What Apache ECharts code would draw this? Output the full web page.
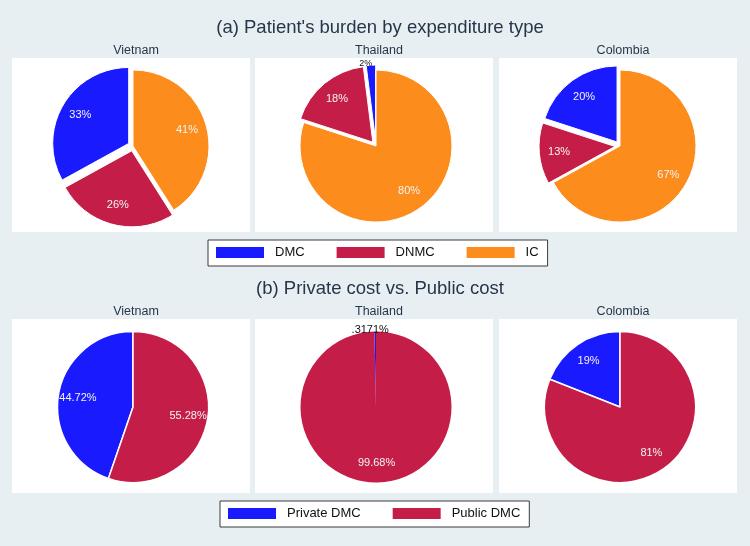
<!DOCTYPE html>
<html>
<head>
<meta charset="utf-8">
<script src="https://cdn.jsdelivr.net/npm/echarts@6/dist/echarts.min.js"></script>
<style>
  html, body { margin: 0; padding: 0; background: #e8eff2; }
  #chart { width: 750px; height: 546px; }
</style>
</head>
<body>
<div id="chart"></div>
<script>
const countries = ['Vietnam', 'Thailand', 'Colombia']
const burdenTypes = ['DMC', 'DNMC', 'IC']
const burdenColors = ['#1a1aff', '#c41e48', '#fc8c1c']
// share of patient's burden (%), per country
const burdenVietnam = [33, 26, 41]
const burdenThailand = [2, 18, 80]
const burdenColombia = [20, 13, 67]
const costTypes = ['Private DMC', 'Public DMC']
const costColors = ['#1a1aff', '#c41e48']
const costVietnam = [44.72, 55.28]
const costThailand = [0.3171, 99.68]
const costColombia = [19, 81]

const titleA = "(a) Patient's burden by expenditure type"
const titleB = '(b) Private cost vs. Public cost'

const textFont = 'Arial, "Liberation Sans", Helvetica, sans-serif'
const panelLefts = [12, 255, 499]
const panelWidth = 238
const panelHeight = 174
const panelTops = [58, 319]

const getchart = echarts.init(document.getElementById('chart'))

function pctLabel(p) {
  let s = String(p.value)
  if (p.value < 1) s = s.replace(/^0/, '')
  return s + '%'
}

// one pie + one transparent ring that carries the labels (Stata puts them at ~0.7 radius)
function pieSeries(names, colors, values, cx, cy, r, explode, border) {
  const mk = (forLabel) => names.map((n, i) => {
    const item = {
      name: n,
      value: values[i],
      selected: explode && i < 2,
      itemStyle: { color: forLabel ? 'rgba(0,0,0,0)' : colors[i] }
    }
    if (forLabel && values[i] < 5) {
      item.label = {
        position: 'outside',
        color: '#111',
        fontSize: values[i] < 1 ? 11 : 9
      }
      item.labelLine = { show: false, length: 2, length2: 0 }
    }
    return item
  })
  const common = {
    type: 'pie',
    center: [cx, cy],
    startAngle: 90,
    clockwise: false,
    avoidLabelOverlap: false,
    selectedMode: 'multiple',
    selectedOffset: 5,
    animation: false,
    emphasis: { disabled: true }
  }
  return [
    Object.assign({}, common, {
      radius: [0, r],
      itemStyle: { borderColor: '#fff', borderWidth: border },
      select: { itemStyle: { borderColor: '#fff', borderWidth: border } },
      label: { show: false },
      labelLine: { show: false },
      data: mk(false)
    }),
    Object.assign({}, common, {
      radius: [r * 0.4, r],
      silent: true,
      itemStyle: { borderWidth: 0 },
      select: { itemStyle: { borderWidth: 0 } },
      label: {
        show: true,
        position: 'inside',
        formatter: pctLabel,
        color: '#f4f4f4',
        fontSize: 11,
        fontFamily: textFont
      },
      // small slices get their label just outside, centred over the slice
      labelLayout: (p) => (values[p.dataIndex] < 5 ? { align: 'center' } : {}),
      data: mk(true)
    })
  ]
}

const burdenData = [burdenVietnam, burdenThailand, burdenColombia]
const costData = [costVietnam, costThailand, costColombia]

let series = []
const titles = [
  { text: titleA, left: 375, top: 13, textAlign: 'center',
    textStyle: { fontSize: 18.5, fontWeight: 'normal', color: '#26364a', fontFamily: textFont } },
  { text: titleB, left: 375, top: 274, textAlign: 'center',
    textStyle: { fontSize: 18.5, fontWeight: 'normal', color: '#26364a', fontFamily: textFont } }
]
const rects = []
for (let c = 0; c < countries.length; c++) {
  const cx = panelLefts[c] + panelWidth / 2 + 2
  series = series.concat(pieSeries(burdenTypes, burdenColors, burdenData[c],
    cx, panelTops[0] + 88, 76, true, 1))
  series = series.concat(pieSeries(costTypes, costColors, costData[c],
    cx, panelTops[1] + 88, 75.5, false, c === 1 ? 0 : 1.5))
  for (let k = 0; k < panelTops.length; k++) {
    titles.push({
      text: countries[c],
      left: panelLefts[c] + panelWidth / 2,
      top: panelTops[k] - 19,
      textAlign: 'center',
      textStyle: { fontSize: 12.5, fontWeight: 'normal', color: '#26364a', fontFamily: textFont }
    })
    rects.push({
      type: 'rect', silent: true, z: -10,
      shape: { x: panelLefts[c], y: panelTops[k], width: panelWidth, height: panelHeight },
      style: { fill: '#ffffff' }
    })
  }
}

const legendBase = {
  icon: 'rect',
  itemWidth: 50,
  itemHeight: 13,
  itemGap: 30,
  orient: 'horizontal',
  selectedMode: false,
  backgroundColor: '#ffffff',
  borderColor: '#3a3a3a',
  borderWidth: 1,
  borderRadius: 0,
  textStyle: { fontSize: 13, color: '#111', fontFamily: textFont, padding: [0, 0, 0, 5] }
}

const option = {
  backgroundColor: '#e8eff2',
  title: titles,
  graphic: rects,
  legend: [
    Object.assign({}, legendBase, { data: burdenTypes, left: 208, top: 240, padding: [5, 9, 6, 6] }),
    Object.assign({}, legendBase, { data: costTypes, left: 220, top: 501, padding: [5, 9, 6, 6] })
  ],
  series: series
}
getchart.setOption(option)
</script>
</body>
</html>
